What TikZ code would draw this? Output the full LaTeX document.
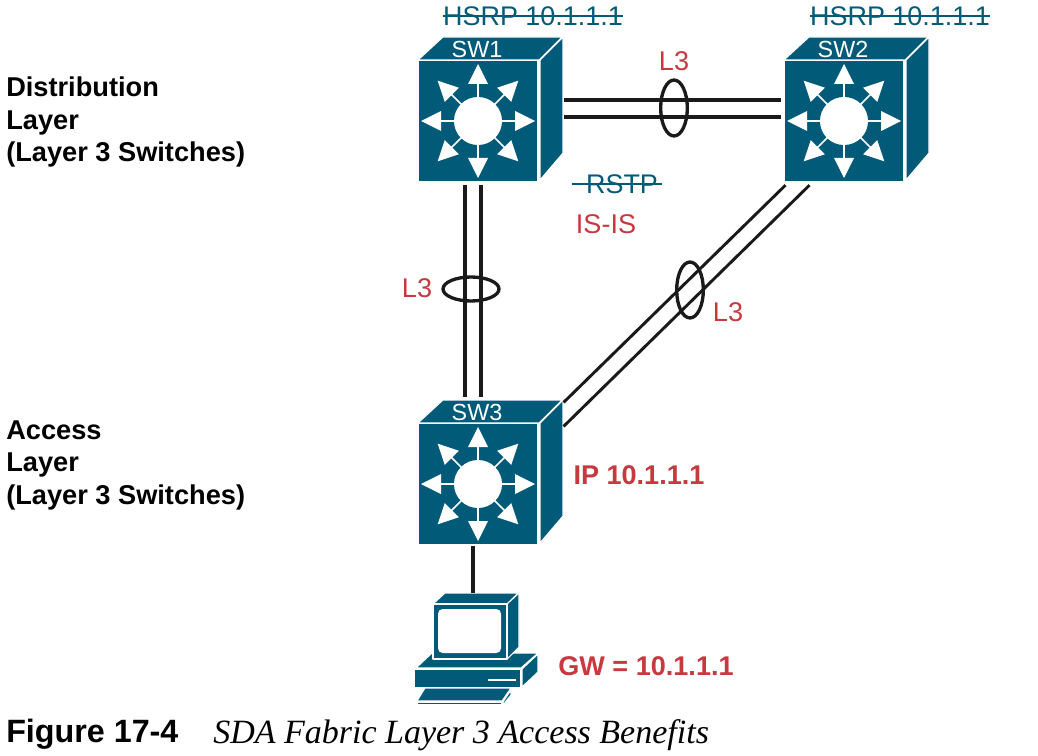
\documentclass[tikz,border=0pt]{standalone}
\usepackage{fontspec}
\setmainfont{Liberation Sans}
\newfontfamily\captionserif{Liberation Serif}
\usetikzlibrary{shapes.geometric}
\definecolor{swteal}{HTML}{005A78}
\definecolor{lblred}{HTML}{C8383F}
\definecolor{linkblack}{HTML}{1A1A1A}
\tikzset{
  link/.style={draw=linkblack,line width=2.4pt},
  bundle/.style={draw=linkblack,line width=2.5pt,ellipse,inner sep=0pt},
  face/.style={fill=swteal,draw=white,line width=0.8pt,line join=round},
  swfront/.style={fill=swteal,draw=white,line width=0.8pt,minimum width=90pt,minimum height=91.5pt,inner sep=0pt},
  redlbl/.style={text=lblred,font=\fontsize{20.3}{24}\selectfont,inner sep=0pt},
  redbold/.style={redlbl,font=\fontsize{20.3}{24}\selectfont\bfseries},
  striketxt/.style={text=swteal,font=\fontsize{20.2}{24}\selectfont,inner sep=0pt},
  strike/.style={draw=swteal,line width=1.8pt},
  layertxt/.style={align=left,anchor=west,inner sep=0pt,font=\fontsize{20.4}{24.4}\selectfont\bfseries},
}
\def\drawswitch(#1)#2#3{% Syntax: (center) {node name} {label}
  \node[swfront] (#2) at (#1) {};
  \begin{scope}[shift={(#1)}]
    \draw[face] (-60,-61) -- (-35,-84) -- (84,-84) -- (61,-61) -- cycle;
    \draw[face] (62,-61) -- (85,-84) -- (85,32) -- (62,59) -- cycle;
    \foreach \a in {0,45,...,315} {
      \begin{scope}[rotate=\a]
        \draw[white,line width=1.1pt] (0,0) -- (40,0);
        \fill[white] (57,0) -- (37,-10) -- (37,10) -- cycle;
      \end{scope}
    }
    \fill[white] (0,0) circle (24);
    \node[text=white,inner sep=0pt,font=\fontsize{17.5}{20}\selectfont] (#2lbl) at (-1,-72) {#3};
  \end{scope}
}
\begin{document}
\begin{tikzpicture}[x=0.75pt,y=-0.75pt]
  \useasboundingbox (0,0) rectangle (1038,756);

  % switches
  \drawswitch(478,121){swa}{SW1}
  \drawswitch(844,121){swb}{SW2}
  \drawswitch(478,484){swc}{SW3}

  % pc
  \node[inner sep=0pt,minimum width=93pt,minimum height=84pt] (pc) at (476,649) {};
  \draw[face] (416,668) -- (432,653) -- (538,653) -- (521,668) -- cycle;
  \draw[face] (522,669) -- (538,654) -- (538,672) -- (522,687) -- cycle;
  \draw[face] (414,669) rectangle (521,688);
  \fill[white] (488,679) rectangle (516,681);
  \draw[face] (433,604) -- (445,593) -- (518,593) -- (507,604) -- cycle;
  \draw[face] (507,604) -- (519,593) -- (519,647) -- (507,659) -- cycle;
  \draw[face] (433,604) rectangle (507,659);
  \fill[white,rounded corners=3.5pt] (438,609) rectangle (501,653);
  \draw[face] (425,688) -- (511,688) -- (502,701) -- (417,701) -- cycle;
  \draw[face] (503,702) -- (511,690) -- (511,695) -- (503,705) -- cycle;
  \draw[face] (417,702) rectangle (502,705);

  % links
  \draw[link] ([xshift=18.75pt,yshift=15.75pt]swa.east) -- ([xshift=-1.5pt,yshift=15.75pt]swb.west);
  \draw[link] ([xshift=18.75pt,yshift=3pt]swa.east) -- ([xshift=-1.5pt,yshift=3pt]swb.west);
  \draw[link] ([xshift=-9.75pt,yshift=-1.5pt]swa.south) -- ([xshift=-9.75pt,yshift=18.75pt]swc.north);
  \draw[link] ([xshift=2.25pt,yshift=-1.5pt]swa.south) -- ([xshift=2.25pt,yshift=18.75pt]swc.north);
  \draw[link,line width=2.2pt] ([xshift=1.5pt,yshift=-2pt]swb.south west) -- ([xshift=18.75pt,yshift=15pt]swc.north east);
  \draw[link,line width=2.2pt] ([xshift=19.5pt,yshift=-2pt]swb.south west) -- ([xshift=18.75pt,yshift=-3pt]swc.north east);
  \draw[link] ([xshift=-3.75pt]swc.south) -- ([xshift=-2.25pt]pc.north);

  % bundles
  \node[bundle,minimum width=20pt,minimum height=42pt] (ringa) at (674,108) {};
  \node[bundle,minimum width=42pt,minimum height=18pt] (ringb) at (471,289) {};
  \node[bundle,minimum width=20pt,minimum height=42pt] (ringc) at (690,290) {};

  % labels
  \node[striketxt] (hsrpa) at (533,16) {HSRP 10.1.1.1};
  \node[striketxt] (hsrpb) at (900,16) {HSRP 10.1.1.1};
  \node[striketxt] (rstp) at (622,184) {RSTP};
  \draw[strike] (hsrpa.west) -- (hsrpa.east);
  \draw[strike] (hsrpb.west) -- (hsrpb.east);
  \draw[strike] ([xshift=-10pt]rstp.west) -- ([xshift=3pt]rstp.east);

  \node[redlbl] (lthreea) at (674,61) {L3};
  \node[redlbl] (lthreeb) at (417,288) {L3};
  \node[redlbl] (lthreec) at (728,312) {L3};
  \node[redlbl] (isis) at (606,224) {IS-IS};
  \node[redbold] (ipaddr) at (639,475) {IP 10.1.1.1};
  \node[redbold] (gwaddr) at (646,666) {GW = 10.1.1.1};

  \node[layertxt] (distlayer) at (6,122) {Distribution\\Layer\\(Layer 3 Switches)};
  \node[layertxt] (acclayer) at (6,465) {Access\\Layer\\(Layer 3 Switches)};

  % caption
  \node[anchor=west,inner sep=0pt,font=\fontsize{24.2}{28}\selectfont\bfseries] (figno) at (6,734) {Figure 17-4};
  \node[anchor=west,inner sep=0pt,font=\fontsize{25.5}{28}\selectfont\captionserif\itshape] (figcap) at (213,735) {SDA Fabric Layer 3 Access Benefits};
\end{tikzpicture}
\end{document}
